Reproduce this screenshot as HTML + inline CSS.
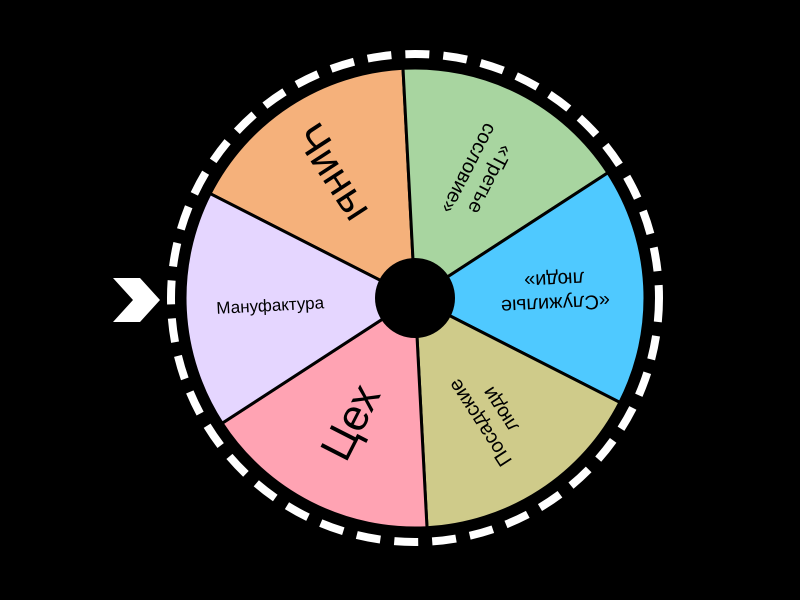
<!DOCTYPE html>
<html><head><meta charset="utf-8"><style>html,body{margin:0;padding:0;background:#000;}svg{display:block}</style></head>
<body>
<svg width="800" height="600" viewBox="0 0 800 600" xmlns="http://www.w3.org/2000/svg" font-family="Liberation Sans, DejaVu Sans, sans-serif">
<rect width="800" height="600" fill="#000"/>
<circle cx="415" cy="298" r="244" fill="none" stroke="#fff" stroke-width="8" stroke-dasharray="24 14"/>
<g transform="translate(415,298)" stroke="#000" stroke-width="3">
<path d="M0 0 L-12.0 -229.7 A230 230 0 0 0 -204.9 -104.4 Z" fill="#F5B17B"/>
<path d="M0 0 L192.9 -125.3 A230 230 0 0 0 -12.0 -229.7 Z" fill="#A8D5A0"/>
<path d="M0 0 L204.9 104.4 A230 230 0 0 0 192.9 -125.3 Z" fill="#4FC9FF"/>
<path d="M0 0 L12.0 229.7 A230 230 0 0 0 204.9 104.4 Z" fill="#CFCB8A"/>
<path d="M0 0 L-192.9 125.3 A230 230 0 0 0 12.0 229.7 Z" fill="#FFA3B3"/>
<path d="M0 0 L-204.9 -104.4 A230 230 0 0 0 -192.9 125.3 Z" fill="#E5D6FF"/>
</g>
<circle cx="415" cy="298" r="40" fill="#000"/>
<g transform="translate(415,298)" fill="#000" text-anchor="middle" dominant-baseline="middle">
<g transform="rotate(-123) translate(150,0) rotate(180)"><text font-size="42" x="0" y="2">Чины</text></g>
<g transform="rotate(-63) translate(140,0) rotate(180)"><text font-size="20" x="0" y="-12">«Третье</text><text font-size="20" x="0" y="12">сословие»</text></g>
<g transform="rotate(-3) translate(140,0) rotate(180)"><text font-size="20" x="0" y="-12">«Служилые</text><text font-size="20" x="0" y="12">люди»</text></g>
<g transform="rotate(57) translate(140,0) rotate(180)"><text font-size="20" x="0" y="-12">Посадские</text><text font-size="20" x="0" y="12">люди</text></g>
<g transform="rotate(117) translate(140,0) rotate(180)"><text font-size="44" x="0" y="2">Цех</text></g>
<g transform="rotate(177) translate(145,0) rotate(180)"><text font-size="17" x="0" y="1">Мануфактура</text></g>
</g>
<polygon points="113,278 140,278 160,300 140,322 113,322 133,300" fill="#fff"/>
</svg>
</body></html>
